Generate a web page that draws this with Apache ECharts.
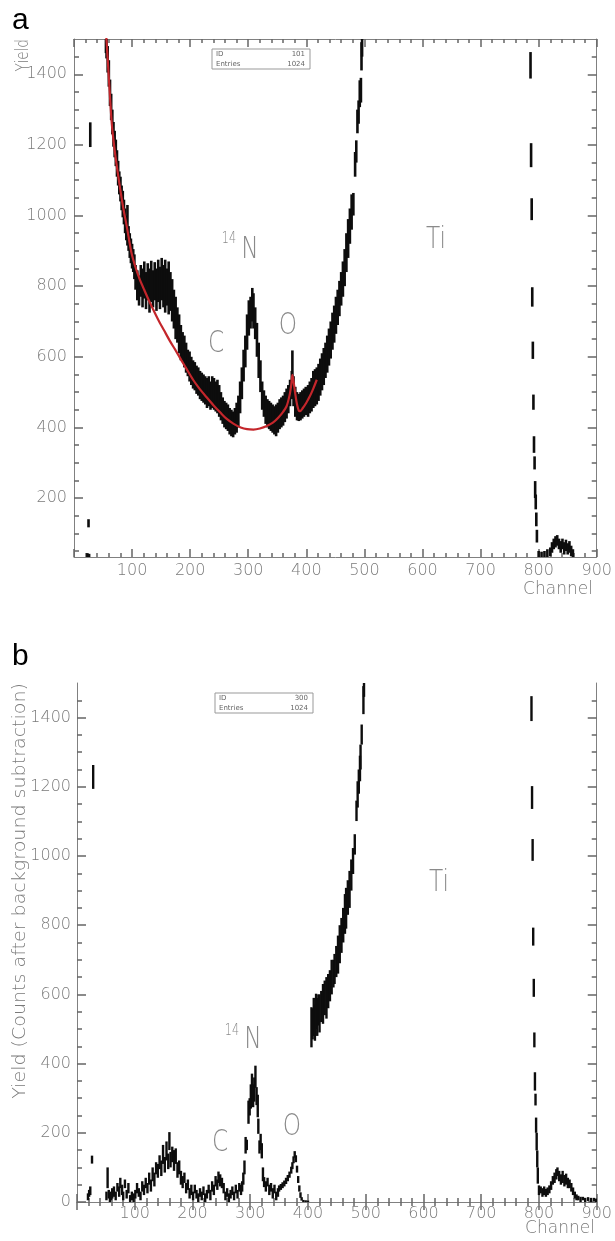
<!DOCTYPE html>
<html>
<head>
<meta charset="utf-8">
<script src="https://cdn.jsdelivr.net/npm/echarts@6/dist/echarts.min.js"></script>
<style>
  html, body { margin: 0; padding: 0; background: #fff; }
  #chart { width: 615px; height: 1241px; }
</style>
</head>
<body>
<div id="chart"></div>
<script>
// tick labels
var channelTicks = [100, 200, 300, 400, 500, 600, 700, 800, 900];
var yieldTicksA = [200, 400, 600, 800, 1000, 1200, 1400];
var yieldTicksB = [0, 200, 400, 600, 800, 1000, 1200, 1400];

// panel a: raw spectrum, one entry per bin shown as [channel, low, high] of its error bar
var aSpectrum = [
  [23, 33, 44], [25, 117, 140], [26, 33, 42], [28, 1194, 1264],
  [55, 1460, 1540], [56, 1445, 1515], [58, 1405, 1480], [60, 1365, 1440], [62, 1310, 1385],
  [64, 1270, 1345], [66, 1230, 1300], [68, 1195, 1265], [70, 1165, 1240], [72, 1140, 1215],
  [74, 1110, 1185], [76, 1085, 1155], [78, 1060, 1125], [80, 1040, 1110], [82, 1015, 1085],
  [84, 995, 1070], [86, 975, 1045], [88, 950, 1020], [90, 930, 1000], [92, 915, 1030],
  [94, 900, 970], [96, 880, 950], [98, 865, 935], [100, 850, 920], [102, 840, 905], [104, 820, 890],
  [106, 790, 860], [109, 760, 845], [112, 745, 830], [115, 770, 860], [118, 740, 850],
  [121, 765, 870], [124, 735, 840], [127, 760, 865], [130, 725, 850], [133, 755, 872],
  [136, 740, 845], [139, 760, 868], [142, 730, 850], [145, 755, 875], [148, 735, 855],
  [151, 760, 880], [154, 740, 860], [157, 725, 875], [160, 745, 850], [163, 720, 870],
  [166, 730, 840], [169, 700, 820], [172, 680, 790], [175, 650, 770], [178, 640, 740],
  [181, 610, 720], [184, 590, 690], [187, 585, 670], [190, 570, 660], [193, 555, 640],
  [196, 545, 620], [199, 530, 615], [202, 520, 600], [205, 510, 590], [208, 505, 585],
  [211, 495, 575], [214, 490, 570], [217, 480, 560], [220, 475, 555], [223, 470, 550],
  [226, 465, 545], [229, 455, 540], [232, 460, 545], [235, 450, 530], [238, 455, 545],
  [241, 450, 540], [244, 445, 530], [247, 440, 535], [250, 430, 520], [253, 420, 500],
  [256, 410, 485], [259, 400, 475], [262, 395, 470], [265, 390, 465], [268, 380, 455],
  [271, 375, 450], [274, 372, 445], [277, 380, 455], [280, 385, 470],
  [283, 400, 490], [286, 440, 530], [289, 480, 570], [292, 530, 620], [295, 570, 660],
  [298, 620, 720], [301, 660, 760], [304, 680, 770], [307, 700, 795], [309, 680, 780],
  [312, 650, 740], [315, 600, 696], [318, 540, 640], [321, 500, 590], [324, 450, 530],
  [327, 430, 505], [330, 410, 490], [333, 400, 480], [336, 395, 475], [339, 390, 470],
  [342, 385, 465], [345, 380, 460], [348, 375, 465], [351, 385, 470], [354, 395, 480],
  [357, 400, 485], [360, 405, 490], [363, 415, 500], [366, 425, 510], [369, 440, 520],
  [372, 460, 535], [375, 480, 560], [376, 520, 618], [378, 460, 545], [381, 430, 515],
  [384, 420, 500], [387, 418, 495], [390, 420, 500], [393, 425, 505], [396, 430, 510],
  [399, 435, 515], [403, 430, 520], [406, 440, 530], [409, 445, 540], [412, 455, 560],
  [415, 460, 565], [418, 465, 570], [421, 475, 580], [424, 490, 595], [427, 505, 610],
  [430, 520, 625], [433, 540, 640], [436, 555, 660], [439, 575, 680], [442, 595, 700],
  [445, 620, 725], [448, 640, 745], [451, 665, 770], [454, 690, 790], [457, 715, 815],
  [460, 745, 840], [463, 770, 870], [466, 800, 905], [469, 840, 950], [472, 880, 990],
  [475, 920, 1020], [478, 960, 1060], [481, 1000, 1064], [484, 1110, 1180], [486, 1150, 1213],
  [488, 1233, 1300], [490, 1260, 1326], [492, 1307, 1383], [494, 1320, 1390],
  [495, 1411, 1491], [496, 1450, 1540],
  [786, 1388, 1463], [787, 1137, 1205], [788, 987, 1049], [789, 742, 797], [790, 594, 643],
  [791, 450, 493], [792, 328, 375], [793, 281, 318], [794, 200, 248], [795, 168, 210],
  [796, 120, 159], [797, 74, 110],
  [800, 30, 50], [805, 28, 48], [810, 30, 50], [815, 32, 55], [820, 35, 60], [823, 45, 75],
  [826, 55, 85], [829, 60, 92], [832, 65, 95], [835, 55, 85], [838, 45, 78], [841, 55, 85],
  [844, 40, 75], [847, 50, 82], [850, 40, 72], [853, 45, 78], [856, 35, 65], [859, 30, 55]
];

// panel a: background fit (red)
var fitChannel = [55, 56, 60, 65, 70, 75, 79, 85, 91, 99, 106, 113, 120, 128, 136, 145, 155,
  165, 175, 185, 194, 205, 215, 228, 240, 252, 263, 275, 287, 298, 309, 320, 332, 343, 352,
  360, 366, 371, 374, 376, 378, 381, 384, 387, 389, 394, 400, 406, 412, 418];
var fitYield = [1520, 1496, 1390, 1261, 1185, 1125, 1081, 1020, 968, 894, 853, 820, 793, 763,
  735, 705, 675, 645, 618, 590, 565, 535, 512, 486, 463, 442, 424, 410, 400, 395, 394, 397,
  404, 414, 428, 444, 460, 490, 520, 549, 530, 495, 465, 448, 446, 455, 470, 488, 510, 535];

// panel b: counts after background subtraction, [channel, low, high]
var bSpectrum = [
  [19, 5, 25], [21, 15, 35], [23, 20, 45], [26, 111, 134], [28, 1194, 1263],
  [51, 5, 30], [53, 40, 100], [55, 10, 35], [57, 0, 25], [59, 5, 30], [61, 10, 40],
  [64, 15, 45], [67, 5, 30], [70, 30, 55], [73, 15, 45], [75, 40, 70], [78, 20, 50],
  [80, 5, 30], [83, 40, 65], [86, 10, 35], [89, 25, 55], [92, 0, 20], [95, 5, 30],
  [98, 0, 25], [101, 10, 35], [104, 25, 55], [107, 15, 40], [110, 5, 30], [113, 30, 60],
  [116, 20, 50], [119, 40, 70], [122, 25, 55], [125, 50, 85], [128, 30, 65], [131, 60, 100],
  [134, 45, 85], [137, 80, 115], [140, 70, 110], [143, 95, 135], [146, 75, 120],
  [149, 110, 165], [152, 85, 130], [155, 120, 175], [158, 95, 140], [160, 150, 202],
  [162, 100, 145], [165, 115, 160], [168, 90, 150], [171, 110, 155], [174, 70, 115],
  [177, 80, 120], [180, 50, 90], [183, 40, 75], [186, 55, 85], [189, 25, 55], [192, 35, 65],
  [195, 10, 40], [198, 20, 50], [201, 5, 30], [204, 25, 50], [207, 10, 35], [210, 0, 25],
  [213, 15, 40], [216, 5, 30], [219, 20, 45], [222, 0, 25], [225, 10, 35], [228, 25, 50],
  [231, 5, 35], [234, 30, 60], [237, 20, 50], [240, 45, 75], [243, 35, 65], [245, 55, 88],
  [248, 45, 80], [251, 40, 70], [254, 25, 55], [257, 5, 30], [260, 15, 40], [263, 0, 25],
  [266, 10, 35], [269, 20, 45], [272, 5, 30], [275, 25, 50], [278, 10, 35], [281, 30, 55],
  [284, 20, 50], [286, 30, 60], [288, 50, 85], [290, 80, 120], [292, 140, 188], [294, 150, 180],
  [297, 226, 293], [299, 250, 300], [301, 270, 340], [303, 300, 371], [305, 274, 340],
  [307, 290, 360], [309, 330, 394], [311, 280, 332], [313, 245, 310], [314, 197, 241],
  [316, 140, 178], [318, 150, 197], [320, 126, 170], [322, 60, 100], [324, 43, 72],
  [327, 30, 60], [330, 45, 70], [333, 20, 50], [336, 30, 55], [339, 10, 40], [342, 25, 50],
  [345, 5, 30], [348, 15, 40],
  [350, 30, 48], [353, 35, 52], [356, 40, 57], [359, 45, 62], [362, 52, 70], [365, 60, 78],
  [368, 70, 88], [371, 82, 102], [373, 95, 115], [375, 112, 132], [377, 128, 147],
  [379, 115, 135], [381, 85, 105], [383, 55, 75], [385, 30, 48], [387, 12, 28], [389, 4, 14],
  [392, 0, 6], [396, 0, 5], [400, 0, 4],
  [406, 447, 563], [408, 470, 560], [410, 480, 590], [412, 466, 570], [414, 500, 602],
  [416, 480, 590], [418, 510, 600], [420, 490, 600], [423, 520, 610], [426, 515, 630],
  [429, 540, 640], [432, 530, 650], [435, 560, 659], [438, 580, 670], [441, 600, 700],
  [444, 620, 700], [446, 630, 717], [449, 650, 740], [452, 660, 770], [455, 690, 800],
  [458, 720, 821], [461, 750, 850], [464, 775, 890], [466, 790, 908], [469, 830, 930],
  [472, 850, 957], [475, 900, 990], [478, 948, 1023], [481, 1004, 1063], [484, 1101, 1160],
  [486, 1140, 1216], [488, 1180, 1250], [490, 1216, 1290], [491, 1250, 1322],
  [493, 1322, 1380], [496, 1410, 1491], [497, 1460, 1550],
  [787, 1390, 1462], [788, 1136, 1202], [789, 986, 1049], [790, 741, 793], [791, 593, 645],
  [792, 447, 490], [793, 322, 375], [794, 279, 313], [795, 200, 244], [796, 149, 200],
  [797, 100, 149], [798, 53, 100], [800, 20, 48], [803, 25, 45], [806, 15, 40], [809, 20, 45],
  [812, 15, 38], [815, 20, 42], [818, 25, 48], [821, 35, 60], [824, 50, 75], [827, 55, 85],
  [830, 65, 95], [832, 75, 100], [835, 60, 90], [838, 50, 80], [841, 55, 90], [844, 45, 78],
  [847, 50, 82], [850, 40, 70], [853, 40, 65], [856, 30, 55], [859, 20, 42], [862, 10, 30],
  [865, 5, 22], [868, 5, 18], [872, 0, 15], [876, 5, 15], [880, 0, 12], [885, 3, 14],
  [890, 0, 12], [895, 2, 12], [899, 0, 10]
];

var AX = '#808080';
var TICK = '#666666';
var TXT = '#7a7a7a';
var FONT = 'DejaVu Sans';

function labelStyle(margin, values) {
  return {
    show: true, margin: margin, customValues: values,
    color: TXT, fontFamily: FONT, fontWeight: 200, fontSize: 16,
    formatter: function (v) { return String(v); }
  };
}

function minorTicks(lo) {
  var out = [];
  for (var v = 50; v < 1500; v += 50) {
    if (v % 200 !== 0 && v > lo) out.push(v);
  }
  return out;
}

function xAxis(grid, pos, margin) {
  return {
    gridIndex: grid, type: 'value', min: 0, max: 900, interval: 100, position: pos,
    splitLine: { show: false },
    axisLine: { show: true, lineStyle: { color: AX, width: 1 } },
    axisTick: { show: true, inside: true, length: 8, lineStyle: { color: TICK, width: 1.5 } },
    minorTick: { show: true, splitNumber: 5, length: 4, lineStyle: { color: TICK, width: 1.5 } },
    axisLabel: pos === 'bottom' ? labelStyle(margin, channelTicks) : { show: false }
  };
}

function yAxis(grid, pos, min, ticks, len, line, label) {
  return {
    gridIndex: grid, type: 'value', min: min, max: 1500, position: pos,
    splitLine: { show: false },
    axisLine: { show: line, lineStyle: { color: AX, width: 1 } },
    axisTick: { show: true, inside: true, length: len, customValues: ticks, lineStyle: { color: TICK, width: 1.5 } },
    axisLabel: label ? labelStyle(label, ticks) : { show: false }
  };
}

function yAxes(grid, min, major, margin) {
  var minor = minorTicks(min);
  return [
    yAxis(grid, 'left', min, major, 9, true, margin),
    yAxis(grid, 'left', min, minor, 5, false, 0),
    yAxis(grid, 'right', min, major, 9, true, 0),
    yAxis(grid, 'right', min, minor, 5, false, 0)
  ];
}

function errorBars(xi, yi, data, width) {
  return {
    type: 'custom', xAxisIndex: xi, yAxisIndex: yi, clip: true, silent: true,
    data: data, encode: { x: 0, y: [1, 2] },
    renderItem: function (params, api) {
      var p = api.coord([api.value(0), api.value(1)]);
      var q = api.coord([api.value(0), api.value(2)]);
      return {
        type: 'line',
        shape: { x1: p[0], y1: p[1], x2: q[0], y2: q[1] },
        style: { stroke: '#0d0d0d', lineWidth: width }
      };
    }
  };
}

function txt(x, y, s, size, color, extra) {
  return Object.assign({
    type: 'text', x: x, y: y, silent: true,
    style: {
      text: s, fill: color, align: 'center', verticalAlign: 'middle',
      font: '200 ' + size + 'px "' + FONT + '"'
    }
  }, extra || {});
}

function vtitle(x, y, s, stretch) {
  return {
    type: 'text', x: x, y: y, rotation: Math.PI / 2, scaleX: stretch, silent: true,
    style: { text: s, fill: TXT, align: 'right', verticalAlign: 'middle', font: '200 17px "' + FONT + '"' }
  };
}

function statBox(x, y, id) {
  var f = '7px "DejaVu Sans"';
  return [
    { type: 'rect', shape: { x: x, y: y, width: 98, height: 20 },
      style: { fill: '#fff', stroke: '#999', lineWidth: 1 } },
    { type: 'text', x: x + 4, y: y + 5, style: { text: 'ID', font: f, fill: '#666', verticalAlign: 'middle' } },
    { type: 'text', x: x + 93, y: y + 5, style: { text: id, font: f, fill: '#666', align: 'right', verticalAlign: 'middle' } },
    { type: 'text', x: x + 4, y: y + 15, style: { text: 'Entries', font: f, fill: '#666', verticalAlign: 'middle' } },
    { type: 'text', x: x + 93, y: y + 15, style: { text: '1024', font: f, fill: '#666', align: 'right', verticalAlign: 'middle' } }
  ];
}

var GREY = '#8a8a8a';
var annotate = { scaleX: 0.75 };

var chart = echarts.init(document.getElementById('chart'));
chart.setOption({
  animation: false,
  backgroundColor: '#fff',
  grid: [
    { left: 74, top: 39, width: 523, height: 518 },
    { left: 77, top: 683, width: 523, height: 519 }
  ],
  xAxis: [xAxis(0, 'bottom', 6), xAxis(0, 'top', 0), xAxis(1, 'bottom', 4), xAxis(1, 'top', 0)],
  yAxis: yAxes(0, 33, yieldTicksA, 7).concat(yAxes(1, 0, yieldTicksB, 6)),
  series: [
    errorBars(0, 0, aSpectrum, 2.6),
    {
      type: 'line', xAxisIndex: 0, yAxisIndex: 0, silent: true,
      data: fitChannel.map(function (c, i) { return [c, fitYield[i]]; }),
      smooth: 0.3, showSymbol: false, clip: true,
      lineStyle: { color: '#c4262b', width: 2.2 }
    },
    errorBars(2, 4, bSpectrum, 2.4)
  ],
  graphic: [
    { type: 'text', x: 12, y: 21, style: { text: 'a', font: '30px "Liberation Sans"', fill: '#000', verticalAlign: 'middle' } },
    { type: 'text', x: 12, y: 657, style: { text: 'b', font: '30px "Liberation Sans"', fill: '#000', verticalAlign: 'middle' } },

    vtitle(24, 39, 'Yield', 0.8),
    vtitle(21, 683, 'Yield (Counts after background subtraction)', 1.12),
    txt(558, 590, 'Channel', 17, TXT),
    txt(560, 1229, 'Channel', 17, TXT),

    txt(229, 239, '14', 15, GREY, annotate),
    txt(250, 250, 'N', 31, GREY, annotate),
    txt(216, 344, 'C', 31, GREY, annotate),
    txt(288, 326, 'O', 31, GREY, annotate),
    txt(436, 240, 'Ti', 31, GREY, annotate),

    txt(232, 1031, '14', 15, GREY, annotate),
    txt(253, 1040, 'N', 31, GREY, annotate),
    txt(220, 1143, 'C', 31, GREY, annotate),
    txt(292, 1127, 'O', 31, GREY, annotate),
    txt(439, 883, 'Ti', 31, GREY, annotate)
  ].concat(statBox(212, 49, '101'), statBox(215, 693, '300'))
});
</script>
</body>
</html>
